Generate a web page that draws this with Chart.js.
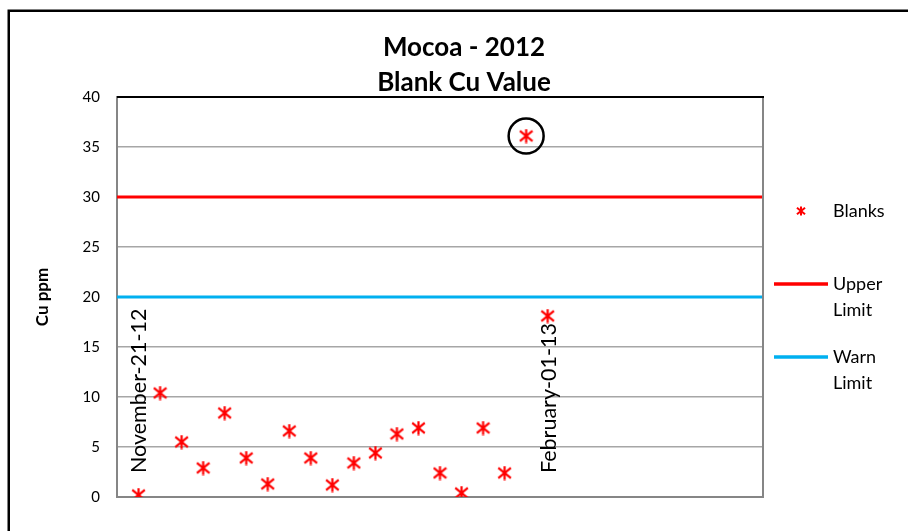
<!DOCTYPE html>
<html><head><meta charset="utf-8">
<script src="https://cdn.jsdelivr.net/npm/chart.js@4.4.1/dist/chart.umd.min.js"></script>
<style>
html,body{margin:0;padding:0;overflow:hidden;background:#fff;}
#wrap{position:relative;width:928px;height:531px;}
canvas{display:block;}
</style></head><body>
<div id="wrap"><canvas id="c" width="928" height="531"></canvas></div>
<script>
// ---- data ----
const titleLines = ['Mocoa - 2012', 'Blank Cu Value'];
const yAxisTitle = 'Cu ppm';
const sampleIndex = [1,2,3,4,5,6,7,8,9,10,11,12,13,14,15,16,17,18,19,20];
const sampleDates = ['November-21-12','','','','','','','','','','','','','','','','','','','February-01-13'];
const blankCu = [0.2,10.4,5.5,2.9,8.4,3.9,1.3,6.6,3.9,1.2,3.4,4.4,6.3,6.9,2.4,0.4,6.9,2.4,36.1,18.1];
const upperLimit = 30;
const warnLimit = 20;
const xRange = [0, 30];
const yRange = [0, 40];
const yStep = 5;
const seriesNames = ['Blanks', 'Upper Limit', 'Warn Limit'];
const circledIndex = 18;

// ---- styles ----
const FONT = 'Lato, "Open Sans", sans-serif';
const RED = '#FF0000', CYAN = '#00B0F0', AXIS = '#868686', GRID = '#A6A6A6';

function asterisk(size, lw){
  const c = document.createElement('canvas');
  c.width = size; c.height = size;
  const g = c.getContext('2d');
  g.strokeStyle = RED; g.lineWidth = lw;
  const m = size/2, r = size/2 - 0.5;
  g.beginPath();
  g.moveTo(m, m - r); g.lineTo(m, m + r);
  const dx = r*0.9, dy = r*0.72;
  g.moveTo(m - dx, m - dy); g.lineTo(m + dx, m + dy);
  g.moveTo(m - dx, m + dy); g.lineTo(m + dx, m - dy);
  g.stroke();
  return c;
}
const markerBig = asterisk(15, 2.2);
const markerSmall = asterisk(10, 2);

const decorPlugin = {
  id: 'decor',
  beforeDraw(chart){
    const ctx = chart.ctx;
    ctx.save();
    ctx.strokeStyle = '#000'; ctx.lineWidth = 2.5;
    ctx.strokeRect(8.75, 10.75, 1000, 700);
    ctx.restore();
  },
  afterDatasetsDraw(chart){
    const ctx = chart.ctx, xs = chart.scales.x, ys = chart.scales.y, a = chart.chartArea;
    ctx.save();
    ctx.strokeStyle = AXIS; ctx.lineWidth = 2;
    ctx.beginPath(); ctx.moveTo(a.right, a.top); ctx.lineTo(a.right, a.bottom + 1); ctx.stroke();
    ctx.strokeStyle = '#000'; ctx.lineWidth = 2;
    ctx.beginPath(); ctx.moveTo(a.left, a.top); ctx.lineTo(a.right + 1, a.top); ctx.stroke();
    const cx = xs.getPixelForValue(sampleIndex[circledIndex]);
    const cy = ys.getPixelForValue(blankCu[circledIndex]);
    ctx.strokeStyle = '#000'; ctx.lineWidth = 2.5;
    ctx.beginPath(); ctx.arc(cx, cy, 17.5, 0, Math.PI*2); ctx.stroke();
    ctx.fillStyle = '#000';
    ctx.font = '21.5px ' + FONT;
    ctx.textAlign = 'left'; ctx.textBaseline = 'middle';
    sampleDates.forEach((d, i) => {
      if (!d) return;
      const px = xs.getPixelForValue(sampleIndex[i]) + 1;
      ctx.save();
      ctx.translate(px, a.bottom - 24);
      ctx.rotate(-Math.PI/2);
      ctx.fillText(d, 0, 0);
      ctx.restore();
    });
    const ds = chart.data.datasets;
    const lx = a.right + 11, tx = a.right + 70;
    ctx.font = '18px ' + FONT;
    ctx.textAlign = 'left'; ctx.textBaseline = 'middle';
    const rows = [a.top + 114, a.top + 187, a.top + 260];
    ds.forEach((d, i) => {
      const y = rows[i];
      if (i === 0) {
        ctx.drawImage(markerSmall, a.right + 38 - 5, y - 5);
      } else {
        ctx.strokeStyle = d.borderColor; ctx.lineWidth = 3.5;
        ctx.beginPath(); ctx.moveTo(lx, y); ctx.lineTo(lx + 54, y); ctx.stroke();
      }
      ctx.fillStyle = '#000';
      d.label.split(' ').forEach((w, k) => ctx.fillText(w, tx, y + k*26));
    });
    ctx.restore();
  }
};

const lineData = v => [{x: xRange[0], y: v}, {x: xRange[1], y: v}];

new Chart(document.getElementById('c'), {
  type: 'scatter',
  data: {
    datasets: [
      { label: seriesNames[0], data: sampleIndex.map((x, i) => ({x, y: blankCu[i]})),
        pointStyle: markerBig, pointRadius: 7, showLine: false, borderColor: RED, backgroundColor: RED },
      { label: seriesNames[1], data: lineData(upperLimit), showLine: true, borderColor: RED,
        borderWidth: 3, pointRadius: 0, pointHoverRadius: 0 },
      { label: seriesNames[2], data: lineData(warnLimit), showLine: true, borderColor: CYAN,
        borderWidth: 3, pointRadius: 0, pointHoverRadius: 0 }
    ]
  },
  options: {
    responsive: false,
    animation: false,
    events: [],
    devicePixelRatio: 1,
    layout: { padding: 0 },
    plugins: {
      legend: { display: false },
      tooltip: { enabled: false },
      title: {
        display: true, text: titleLines, color: '#000',
        font: { family: FONT, size: 26, weight: 'bold', lineHeight: '35px' },
        padding: { top: 30, bottom: -3 }
      }
    },
    scales: {
      x: {
        type: 'linear', min: xRange[0], max: xRange[1],
        ticks: { display: false },
        grid: { display: false, drawTicks: false },
        border: { color: AXIS, width: 2 },
        afterFit: s => { s.height = 34; }
      },
      y: {
        min: yRange[0], max: yRange[1],
        ticks: { stepSize: yStep, color: '#000', padding: 17, font: { family: FONT, size: 15 } },
        grid: { color: GRID, lineWidth: 1.5, drawTicks: false },
        border: { color: AXIS, width: 2 },
        title: { display: true, text: yAxisTitle, color: '#000', font: { family: FONT, size: 17, weight: 'bold' }, padding: { top: 32 } },
        afterFit: s => { s.width = 117; }
      },
      legendSpace: {
        position: 'right', min: yRange[0], max: yRange[1],
        ticks: { display: false },
        grid: { display: false, drawTicks: false },
        border: { display: false },
        afterFit: s => { s.width = 165; }
      }
    }
  },
  plugins: [decorPlugin]
});
</script>
</body></html>
